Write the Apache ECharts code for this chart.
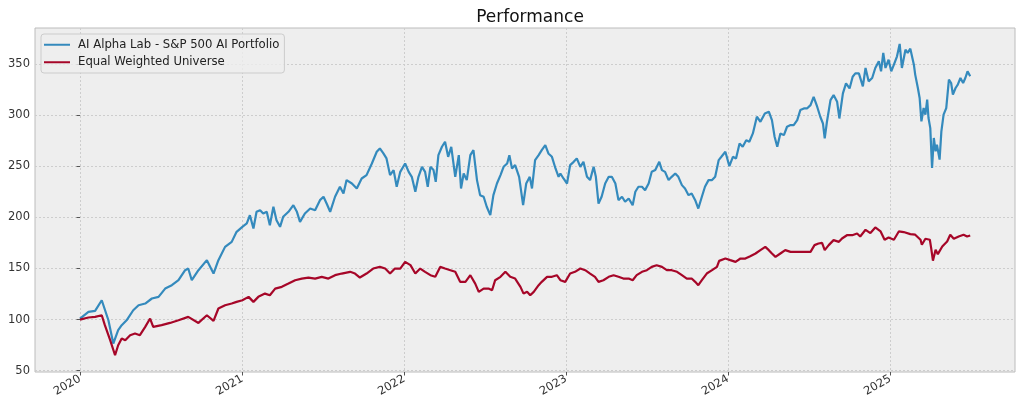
<!DOCTYPE html>
<html>
<head>
<meta charset="utf-8">
<script src="https://cdn.jsdelivr.net/npm/echarts@6/dist/echarts.min.js"></script>
<style>
html,body{margin:0;padding:0;background:#fff;}
#chart{width:1024px;height:410px;}
</style>
</head>
<body>
<div id="chart"></div>
<script>
// ---- data (x = days since 2020-01-01) ----
const title = 'Performance';
const seriesNames = ['AI Alpha Lab - S&P 500 AI Portfolio', 'Equal Weighted Universe'];
const yearTicks = ['2020-01-01','2021-01-01','2022-01-01','2023-01-01','2024-01-01','2025-01-01'];
const yTicks = [50, 100, 150, 200, 250, 300, 350];

const blueDays = [0,19,34,49,64,75,79,86,94,105,120,132,147,162,177,192,207,222,237,244,252,267,286,301,312,327,342,353,
366,376,383,391,398,406,413,421,428,436,443,451,458,470,481,489,496,507,519,530,541,549,556,564,575,586,594,601,613,624,635,646,658,669,676,684,691,699,707,714,722,
733,741,748,756,763,771,778,784,790,797,802,808,816,823,830,837,846,854,859,865,872,880,887,895,902,910,917,925,932,940,948,955,963,968,974,981,990,999,1006,1014,1019,1026,1034,1041,1049,1056,1064,1072,1079,1083,
1090,1098,1105,1113,1120,1128,1135,1143,1150,1158,1163,1169,1176,1184,1192,1199,1207,1214,1222,1229,1237,1246,1252,1259,1267,1274,1282,1289,1297,1306,1312,1319,1327,1334,1342,1349,1357,1364,1372,1379,1387,1394,1402,1409,1417,1425,1432,1440,
1446,1455,1464,1472,1479,1487,1494,1502,1509,1517,1526,1534,1544,1553,1560,1566,1572,1579,1587,1594,1602,1609,1617,1624,1632,1639,1647,1654,1662,1669,1675,1679,1684,1692,1699,1707,1712,1720,1727,1735,1742,1748,1756,
1765,1771,1778,1786,1793,1801,1806,1811,1816,1823,1829,1835,1842,1848,1853,1861,1866,1872,1880,1883,1889,1893,1897,1902,1906,1910,1913,1917,1921,1925,1929,1932,1938,1942,1947,1953,1959,1964,1968,1974,1979,1985,1991,1996,2001,2007];
const blueValues = [101,107.5,108.5,118.9,99.3,76.5,74.9,89.6,94.5,99.3,109.1,114,115.7,120.6,122.2,130.3,133.6,138.5,148.3,149.9,138.5,148.3,158.1,145,158.1,171.1,176,185.8,
190.7,194,202.1,189.1,205.4,207,203.8,205.4,192.3,210.3,197.2,190.7,200.5,205.4,211.9,205.4,195.6,203.8,208.6,207,216.8,220.1,213.5,205.4,220.1,229.9,223.3,236.4,233.1,228.2,238,241.3,252.7,264.1,267.4,262.5,257.6,241.3,246.2,229.9,244.5,
252.7,244.5,239.6,225,239.6,249.4,244.5,229.9,249.4,246.2,234.7,260.8,269,273.9,259.2,269,239.6,260.8,228.2,242.9,236.4,260.8,265.7,236.4,221.7,220.1,210.3,202.1,221.7,233.1,241.3,249.4,252.7,260.8,247.8,251.1,239.6,211.9,233.1,239.6,228.2,255.9,260.8,265.7,270.6,262.5,259.2,247.8,239.6,242.9,
238,233.1,251.1,254.3,257.6,249.4,254.3,239.6,236.4,249.4,239.6,213.5,220.1,233.1,239.6,239.6,233.1,216.8,220.1,215.2,218.4,211.9,225,229.9,229.9,226.6,233.1,244.5,246.2,254.3,246.2,244.5,236.4,239.6,242.9,239.6,231.5,228.2,221.7,223.3,216.8,208.6,220.1,229.9,236.4,236.4,239.6,256,
259.2,264.1,250.1,259.2,257.6,272.3,269,275.5,273.9,282.1,298.4,293.5,301.6,303.3,295.1,278.8,269,282.1,280.4,288.6,290.2,290.2,295.1,304.9,306.5,306.5,309.8,317.9,308.2,298.4,291.8,277.2,293.5,314.7,319.6,313,296.7,321.2,331,326.1,337.5,340.8,340.8,
328.1,346.1,333,336.3,346.1,352.6,342.8,360.8,346.1,354.2,342.8,349.3,357.5,369.6,346.1,364,360.8,365,349.3,339.6,326.5,316.7,293.9,306.9,300.4,315.1,297.1,287.3,248.2,277.6,264.5,271,256.4,284.1,300.4,306.9,334.7,331.4,320,326.5,329.8,336.3,331.4,336.3,342.8,337.9];

const redDays = [0,19,34,49,56,68,79,86,94,102,113,124,135,147,158,165,184,203,222,244,267,286,301,312,327,342,353,
366,380,391,402,417,428,440,455,470,485,500,515,530,545,560,575,590,609,620,631,646,661,676,688,699,710,722,
733,745,756,767,778,790,801,812,823,835,846,857,869,880,891,899,910,921,929,936,948,959,970,981,993,1000,1008,1015,1023,1034,1041,1053,1064,1075,1083,
1094,1105,1116,1128,1139,1150,1161,1169,1180,1192,1203,1214,1225,1237,1246,1255,1267,1278,1289,1300,1312,1323,1334,1346,1357,1368,1379,1387,1394,1402,1413,1425,1436,1441,
1455,1466,1478,1489,1500,1511,1523,1534,1545,1553,1560,1568,1579,1590,1602,1613,1624,1635,1647,1656,1665,1673,1679,1688,1699,1711,1718,1729,1741,1752,
1759,1771,1782,1793,1805,1814,1823,1835,1846,1857,1872,1883,1895,1898,1906,1916,1919,1923,1929,1934,1944,1955,1962,1970,1981,1992,2000,2007];
const redValues = [100,102,102.6,104.2,94.5,79.8,65.1,74.9,81.4,79.8,84.7,86.3,84.7,92.8,101,92.8,94.5,96.7,99.3,102.6,96.7,104.2,98.7,110.8,114,115.7,117.3,
118.9,122.2,117.3,122.2,125.4,123.8,130.3,132,135.2,138.5,140.1,141.1,140.1,141.8,140.1,143.4,145,146.7,145,141.1,145,149.9,151.5,149.9,145,149.9,149.9,
156.4,153.2,145,149.9,146.7,143.4,141.8,151.5,149.9,148.3,146.7,136.9,136.9,143.4,135.2,127.1,130.3,130.3,128.7,138.5,141.8,146.7,141.8,140.1,132,125.4,127.1,123.8,127.1,133.6,136.9,141.8,141.8,143.4,138.5,
136.9,145,146.7,149.9,148.3,145,141.8,136.9,138.5,141.8,143.4,141.8,140.1,140.1,138.5,143.4,146.7,148.3,151.5,153.2,151.5,148.3,148.3,146.7,143.4,140.1,140.1,136.9,133.6,138.5,145,148.3,151.5,157.4,
159.7,158.1,156.4,159.7,159.7,162,164.6,167.9,171.1,167.9,164.6,161.3,164.6,167.9,166.2,166.2,166.2,166.2,166.2,172.8,174.4,175,167.9,172.8,177.7,176,179.3,182.5,182.5,184.2,
181.3,187.8,184.6,190.1,186.2,178.1,180.3,178.1,186.2,185.6,183.6,183,178.1,173.2,179,178.1,169.9,157.6,168.3,164,171.5,176.4,183,179,181.3,183,181.3,182.3];

// ---- build ----
const DAY = 86400000;
const T0 = Date.UTC(2020, 0, 1);
const dayOf = s => Math.round((Date.parse(s + 'T00:00:00Z') - T0) / DAY);
const yearDays = yearTicks.map(dayOf);
const pairs = (days, vals) => days.map((d, i) => [d, vals[i]]);

const FONT = 'DejaVu Sans';
const GRID = {show: true, lineStyle: {color: '#cdcdcd', type: [2, 2], width: 1}};
const chart = echarts.init(document.getElementById('chart'), null, {renderer: 'canvas'});
chart.setOption({
  animation: false,
  backgroundColor: '#ffffff',
  textStyle: {fontFamily: FONT},
  title: {
    text: title, left: 525, top: 4, textAlign: 'center',
    textStyle: {fontFamily: FONT, fontSize: 17, fontWeight: 'normal', color: '#111'}
  },
  legend: {
    orient: 'vertical', left: 41, top: 34,
    data: seriesNames,
    icon: 'rect', itemWidth: 26, itemHeight: 2, itemGap: 4,
    padding: [4, 5, 4, 3],
    backgroundColor: 'rgba(238,238,238,0.8)', borderColor: '#cccccc', borderWidth: 1, borderRadius: 3,
    textStyle: {fontFamily: FONT, fontSize: 11.7, color: '#222', padding: [0, 0, 0, 3], lineHeight: 13.5}
  },
  grid: {
    left: 35, right: 9, top: 28, bottom: 38,
    show: true, backgroundColor: '#eeeeee', borderColor: '#bcbcbc', borderWidth: 1
  },
  xAxis: {
    type: 'value',
    min: -101.5, max: 2108,
    axisLine: {show: false},
    axisTick: {show: true, customValues: yearDays, length: 3.5, lineStyle: {color: '#555'}},
    axisLabel: {
      customValues: yearDays, rotate: 30, fontSize: 11.5, color: '#333', fontFamily: FONT, margin: 6,
      formatter: v => { const i = yearDays.indexOf(Math.round(v)); return i >= 0 ? yearTicks[i].slice(0, 4) : ''; }
    },
    splitLine: GRID
  },
  yAxis: {
    type: 'value', min: 48.7, max: 385.2,
    axisLine: {show: false},
    axisTick: {show: true, customValues: yTicks, length: 3.5, lineStyle: {color: '#555'}},
    axisLabel: {customValues: yTicks, fontSize: 11.5, color: '#333', fontFamily: FONT, margin: 5},
    splitLine: GRID
  },
  series: [
    {name: seriesNames[0], type: 'line', data: pairs(blueDays, blueValues), showSymbol: false,
     lineStyle: {color: '#348ABD', width: 2.2}, itemStyle: {color: '#348ABD'}},
    {name: seriesNames[1], type: 'line', data: pairs(redDays, redValues), showSymbol: false,
     lineStyle: {color: '#A60628', width: 2.2}, itemStyle: {color: '#A60628'}}
  ]
});
</script>
</body>
</html>
